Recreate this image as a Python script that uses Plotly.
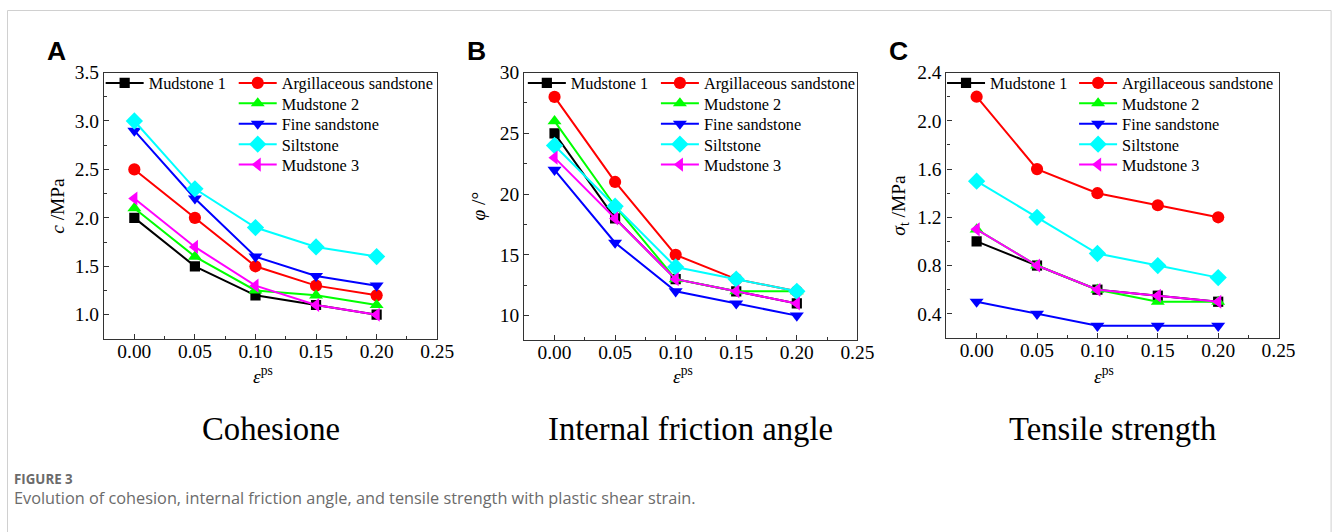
import plotly.graph_objects as go

# layout positions are given in view pixels and converted to figure pixels
SX, SY, OY = 0.987, 0.98, 9.5
VIEW_W, VIEW_H = 1336, 532
W = round(VIEW_W / SX)
H = round((VIEW_H - OY) / SY)


def fx(x):
    return x / SX


def fy(y):
    return (y - OY) / SY


def px(x):
    return fx(x) / W


def py(y):
    return 1 - fy(y) / H


def fs(size):
    return round(size / SY, 1)


# strain levels shared by all three panels
strain = [0.00, 0.05, 0.10, 0.15, 0.20]

rock_names = ["Mudstone 1", "Argillaceous sandstone", "Mudstone 2",
              "Fine sandstone", "Siltstone", "Mudstone 3"]
rock_colors = ["#000000", "#FF0000", "#00FF00", "#0000FF", "#00FFFF", "#FF00FF"]
rock_symbols = ["square", "circle", "triangle-up", "triangle-down", "diamond", "triangle-left"]
rock_sizes = [10, 12, 12, 12, 13, 12]

# cohesion c (MPa)
cohesion = {
    "Mudstone 1": [2.0, 1.5, 1.2, 1.1, 1.0],
    "Argillaceous sandstone": [2.5, 2.0, 1.5, 1.3, 1.2],
    "Mudstone 2": [2.1, 1.6, 1.25, 1.2, 1.1],
    "Fine sandstone": [2.9, 2.2, 1.6, 1.4, 1.3],
    "Siltstone": [3.0, 2.3, 1.9, 1.7, 1.6],
    "Mudstone 3": [2.2, 1.7, 1.3, 1.1, 1.0],
}
# internal friction angle phi (deg)
friction = {
    "Mudstone 1": [25, 18, 13, 12, 11],
    "Argillaceous sandstone": [28, 21, 15, 13, 12],
    "Mudstone 2": [26, 19, 13, 12, 12],
    "Fine sandstone": [22, 16, 12, 11, 10],
    "Siltstone": [24, 19, 14, 13, 12],
    "Mudstone 3": [23, 18, 13, 12, 11],
}
# tensile strength sigma_t (MPa)
tensile = {
    "Mudstone 1": [1.0, 0.8, 0.6, 0.55, 0.5],
    "Argillaceous sandstone": [2.2, 1.6, 1.4, 1.3, 1.2],
    "Mudstone 2": [1.1, 0.8, 0.6, 0.5, 0.5],
    "Fine sandstone": [0.5, 0.4, 0.3, 0.3, 0.3],
    "Siltstone": [1.5, 1.2, 0.9, 0.8, 0.7],
    "Mudstone 3": [1.1, 0.8, 0.6, 0.55, 0.5],
}

panel_letters = ["A", "B", "C"]
panel_titles = ["Cohesione", "Internal friction angle", "Tensile strength"]
y_titles = ["<i>c</i> /MPa", "<i>φ</i> /°", "<i>σ</i><sub>t</sub> /MPa"]
x_title = "<i>ε</i><sup>ps</sup>"

SERIF = "Liberation Serif, Times New Roman, serif"

# plot areas in view pixels: (left, top, right, bottom)
boxes = [(104, 72, 437, 338), (524, 72, 857, 339), (946, 72, 1278, 337)]
y_ranges = [[0.75, 3.5], [8, 30], [0.2, 2.4]]
y_dticks = [0.5, 5, 0.4]
y_formats = [".1f", "d", ".1f"]
# legend text start (x pixel) for the two legend columns of each panel
legend_cols = [(147, 280), (569, 702), (988, 1120)]
LEG_ROW0, LEG_ROW_STEP = 82.7, 20.4
ITEM_W = 38
TEXT_OFFSET = 47  # figure px from legend left edge to the entry text

fig = go.Figure()
datasets = [cohesion, friction, tensile]

annotations = []
legends = {}
leg_count = 0
for p in range(3):
    ax = "" if p == 0 else str(p + 1)
    l, t, r, b = boxes[p]
    for i, name in enumerate(rock_names):
        leg_count += 1
        leg_id = "legend" if leg_count == 1 else f"legend{leg_count}"
        fig.add_trace(go.Scatter(
            x=strain, y=datasets[p][name], name=name,
            mode="lines+markers",
            line=dict(color=rock_colors[i], width=2),
            marker=dict(symbol=rock_symbols[i], size=fs(rock_sizes[i]),
                        color=rock_colors[i]),
            xaxis="x" + ax, yaxis="y" + ax,
            legend=leg_id, showlegend=True,
        ))
        # Mudstone 1 sits alone in the left column, the rest stack on the right
        col_x = legend_cols[p][0] if i == 0 else legend_cols[p][1]
        row = 0 if i == 0 else i - 1
        legends[leg_id] = dict(
            x=(fx(col_x) - TEXT_OFFSET) / W, y=py(LEG_ROW0 + row * LEG_ROW_STEP),
            xanchor="left", yanchor="middle", xref="paper", yref="paper",
            bgcolor="rgba(0,0,0,0)", borderwidth=0, itemwidth=ITEM_W,
            font=dict(family=SERIF, size=fs(16), color="#000000"),
        )

    axis_common = dict(
        showline=True, linecolor="#333333", linewidth=1.2, mirror=True,
        ticks="inside", ticklen=5, tickcolor="#333333", tickwidth=1.2,
        showgrid=False, zeroline=False,
        tickfont=dict(family=SERIF, size=fs(19), color="#000000"),
    )
    fig.update_layout(**{
        "xaxis" + ax: dict(
            domain=[px(l), px(r)], range=[-0.025, 0.25],
            tick0=0, dtick=0.05, tickformat=".2f", ticklabelstandoff=-5,
            minor=dict(ticks="inside", ticklen=3, dtick=0.025, tick0=0,
                       tickcolor="#333333", showgrid=False),
            anchor="y" + ax, **axis_common),
        "yaxis" + ax: dict(
            domain=[py(b), py(t)], range=y_ranges[p],
            tick0=0, dtick=y_dticks[p], tickformat=y_formats[p], ticklabelstandoff=0,
            minor=dict(ticks="inside", ticklen=3, dtick=y_dticks[p] / 2, tick0=0,
                       tickcolor="#333333", showgrid=False),
            anchor="x" + ax, **axis_common),
    })

    cx = (l + r) / 2
    annotations += [
        dict(text=f"<b>{panel_letters[p]}</b>", x=px(l - 59), y=py(50),
             xanchor="left", yanchor="middle",
             font=dict(family="Liberation Sans, Arial, sans-serif", size=fs(26), color="#000")),
        dict(text=y_titles[p], x=px(l - 46), y=py((t + b) / 2),
             textangle=-90, xanchor="center", yanchor="middle",
             font=dict(family=SERIF, size=fs(19), color="#000")),
        dict(text=x_title, x=px(cx - 8), y=py(374),
             xanchor="center", yanchor="middle",
             font=dict(family=SERIF, size=fs(19), color="#000")),
        dict(text=panel_titles[p], x=px(cx), y=py(428),
             xanchor="center", yanchor="middle",
             font=dict(family=SERIF, size=fs(32), color="#000")),
    ]

annotations += [
    dict(text="<b>FIGURE 3</b>", x=px(12), y=py(478), xanchor="left", yanchor="middle",
         font=dict(family="Open Sans, sans-serif", size=fs(13), color="#6b6b6b")),
    dict(text="Evolution of cohesion, internal friction angle, and tensile strength "
              "with plastic shear strain.",
         x=px(12), y=py(497), xanchor="left", yanchor="middle",
         font=dict(family="Open Sans, sans-serif", size=fs(16), color="#6b6b6b")),
]
for a in annotations:
    a.update(xref="paper", yref="paper", showarrow=False)

fig.update_layout(
    width=W, height=H, margin=dict(l=0, r=0, t=0, b=0),
    paper_bgcolor="#ffffff", plot_bgcolor="#ffffff",
    showlegend=True,
    annotations=annotations,
    shapes=[dict(type="rect", xref="paper", yref="paper",
                 x0=px(7.5), x1=px(1330.5), y0=-0.05, y1=1 - 0.5 / H,
                 line=dict(color="#d0d0d0", width=1), fillcolor="rgba(0,0,0,0)",
                 layer="below")],
    **legends,
)

fig.write_html("out.html")
